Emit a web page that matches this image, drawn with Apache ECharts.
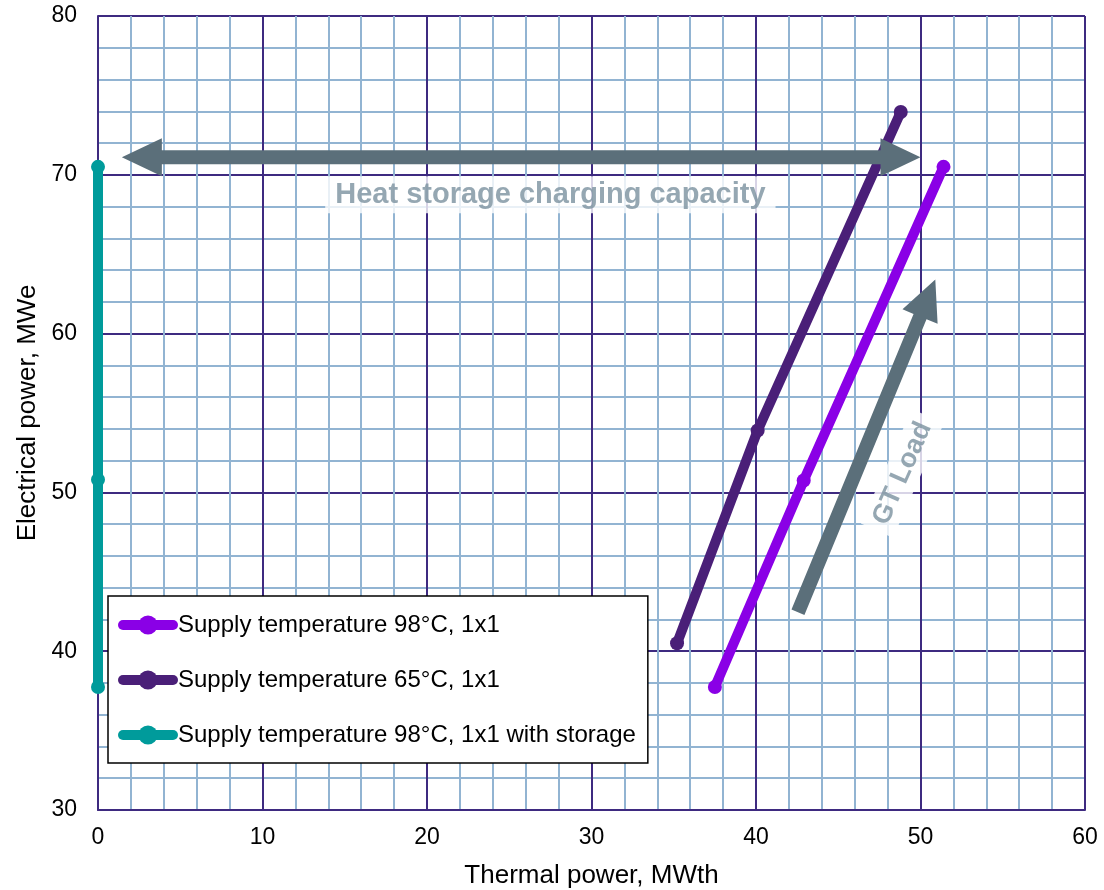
<!DOCTYPE html>
<html>
<head>
<meta charset="utf-8">
<script src="https://cdn.jsdelivr.net/npm/echarts@6/dist/echarts.min.js"></script>
<style>
  html, body { margin: 0; padding: 0; background: #fff; }
  #chart { width: 1104px; height: 890px; }
</style>
</head>
<body>
<div id="chart"></div>
<script>
// series values: [thermal MWth, electrical MWe]
const supply98 = [[37.5, 37.75], [42.9, 50.75], [51.4, 70.5]];
const supply65 = [[35.2, 40.5], [40.1, 53.9], [48.8, 73.95]];
const storage98 = [[0, 37.75], [0, 50.8], [0, 70.5]];

const seriesNames = [
  "Supply temperature 98°C, 1x1",
  "Supply temperature 65°C, 1x1",
  "Supply temperature 98°C, 1x1 with storage"
];

// annotation arrows: [x1, y1, x2, y2, doubleHeaded]
const arrows = [
  [1.45, 71.1, 50.0, 71.1, 1],
  [42.55, 42.45, 50.9, 63.4, 0]
];

// annotation texts: [x, y, text, rotation]
const notes = [
  [27.5, 68.75, "Heat storage charging capacity", 0],
  [48.9, 51.2, "GT Load", 66]
];

const FONT = "Liberation Sans, Arial, sans-serif";
const colors = ["#8A00E6", "#4A1F78", "#009B9B"];
const arrowColor = "#5B6F7A";

const myChart = echarts.init(document.getElementById("chart"));

function arrowShape(p1, p2, both) {
  const dx = p2[0] - p1[0], dy = p2[1] - p1[1];
  const len = Math.sqrt(dx * dx + dy * dy);
  const ux = dx / len, uy = dy / len;
  const nx = -uy, ny = ux;
  const shaft = 7, head = 19, headLen = 40;
  const pts = [];
  const at = (p, along, side) => [p[0] + ux * along + nx * side, p[1] + uy * along + ny * side];
  // tip end
  pts.push(p2);
  pts.push(at(p2, -headLen, head));
  pts.push(at(p2, -headLen, shaft));
  if (both) {
    pts.push(at(p1, headLen, shaft));
    pts.push(at(p1, headLen, head));
    pts.push(p1);
    pts.push(at(p1, headLen, -head));
    pts.push(at(p1, headLen, -shaft));
  } else {
    pts.push(at(p1, 0, shaft));
    pts.push(at(p1, 0, -shaft));
  }
  pts.push(at(p2, -headLen, -shaft));
  pts.push(at(p2, -headLen, -head));
  return pts;
}

const lineSeries = [supply98, supply65, storage98].map((d, i) => ({
  name: seriesNames[i],
  type: "line",
  data: d,
  symbol: "circle",
  symbolSize: 14,
  clip: false,
  z: 3,
  lineStyle: { width: 10, color: colors[i], cap: "round" },
  itemStyle: { color: colors[i] }
}));

myChart.setOption({
  animation: false,
  backgroundColor: "#fff",
  textStyle: { fontFamily: FONT },
  grid: { left: 98, right: 19, top: 16, bottom: 80, outerBoundsMode: "none", containLabel: false },
  legend: {
    orient: "vertical",
    left: 108,
    top: 596,
    backgroundColor: "#fff",
    borderColor: "#000",
    borderWidth: 1.5,
    borderRadius: 0,
    padding: [17, 12, 16, 10],
    itemWidth: 50,
    itemHeight: 24,
    itemGap: 31,
    z: 10,
    data: seriesNames,
    lineStyle: { width: 10, cap: "round" },
    textStyle: { fontSize: 24, lineHeight: 24, color: "#000", fontFamily: FONT }
  },
  xAxis: {
    type: "value",
    min: 0, max: 60, interval: 10,
    name: "Thermal power, MWth",
    nameLocation: "middle",
    nameGap: 53,
    nameTextStyle: { fontSize: 26, color: "#000", fontFamily: FONT },
    axisLine: { show: true, lineStyle: { color: "#3E2A80", width: 2 } },
    axisTick: { show: false },
    axisLabel: { fontSize: 23, color: "#000", margin: 16 },
    minorTick: { show: false, splitNumber: 5 },
    splitLine: { show: true, lineStyle: { color: "#3E2A80", width: 2 } },
    minorSplitLine: { show: true, lineStyle: { color: "#92B4D2", width: 2 } }
  },
  yAxis: {
    type: "value",
    min: 30, max: 80, interval: 10,
    name: "Electrical power, MWe",
    nameLocation: "middle",
    nameGap: 57,
    nameTextStyle: { fontSize: 26, color: "#000", fontFamily: FONT },
    axisLine: { show: true, lineStyle: { color: "#3E2A80", width: 2 } },
    axisTick: { show: false },
    axisLabel: { fontSize: 23, color: "#000", margin: 21 },
    minorTick: { show: false, splitNumber: 5 },
    splitLine: { show: true, lineStyle: { color: "#3E2A80", width: 2 } },
    minorSplitLine: { show: true, lineStyle: { color: "#92B4D2", width: 2 } }
  },
  series: lineSeries.concat([
    {
      type: "custom",
      name: "arrows",
      z: 4,
      silent: true,
      clip: false,
      data: arrows,
      renderItem: function (params, api) {
        const p1 = api.coord([api.value(0), api.value(1)]);
        const p2 = api.coord([api.value(2), api.value(3)]);
        return {
          type: "polygon",
          shape: { points: arrowShape(p1, p2, api.value(4) === 1) },
          style: { fill: arrowColor }
        };
      }
    },
    {
      type: "scatter",
      name: "notes",
      z: 5,
      silent: true,
      symbolSize: 0,
      data: notes.map((n) => ({
        value: [n[0], n[1]],
        label: {
          show: true,
          position: "inside",
          formatter: n[2],
          rotate: n[3],
          fontSize: n[3] ? 27 : 29,
          fontWeight: "bold",
          color: "#7A919F",
          fontFamily: FONT,
          backgroundColor: "#fff",
          padding: n[3] ? [4, 8] : [4, 10]
        }
      }))
    }
  ])
});
</script>
</body>
</html>
